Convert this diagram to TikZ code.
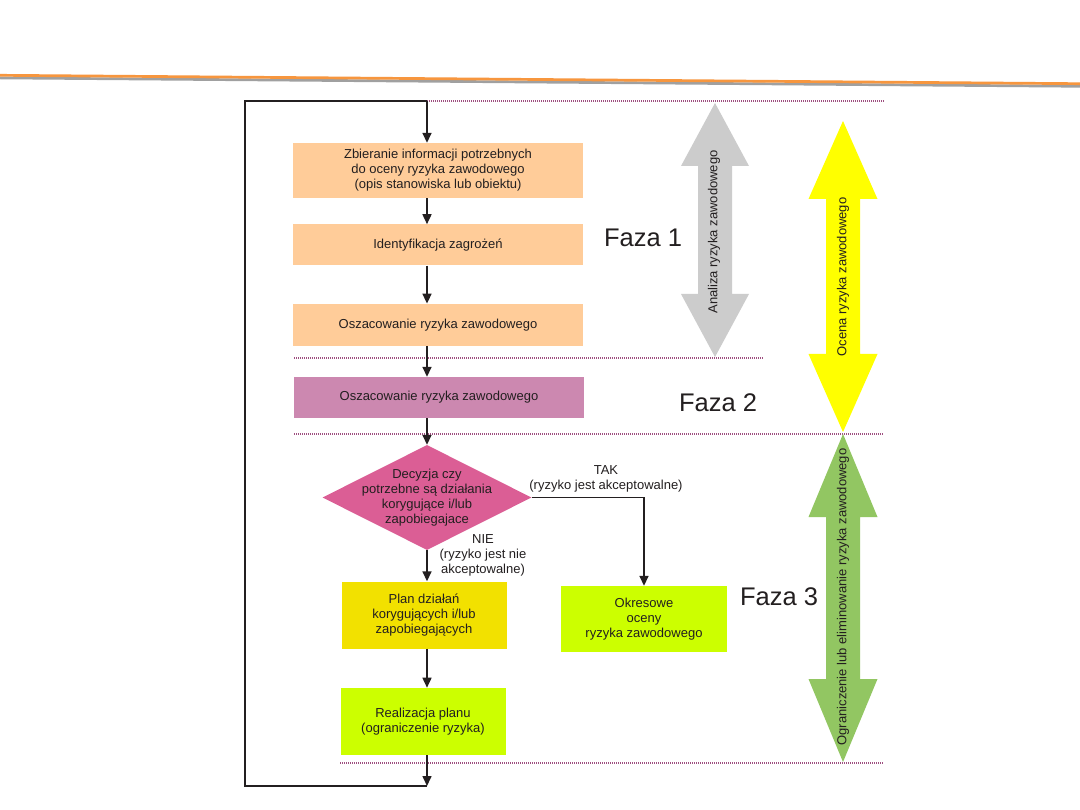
\documentclass[tikz,border=0pt]{standalone}
\usepackage{fontspec}
\setmainfont{Liberation Sans}
\usetikzlibrary{arrows.meta,positioning,shapes.geometric}
\definecolor{peach}{HTML}{FFCC99}
\definecolor{mauve}{HTML}{CC88B0}
\definecolor{rose}{HTML}{DB5E95}
\definecolor{plany}{HTML}{F2E100}
\definecolor{lime}{HTML}{CCFF00}
\definecolor{greyarr}{HTML}{CCCCCC}
\definecolor{yelarr}{HTML}{FFFF00}
\definecolor{grnarr}{HTML}{92C662}
\definecolor{dots}{HTML}{9E4F80}
\definecolor{ink}{HTML}{231F20}
\definecolor{hdrorange}{HTML}{F7963E}
\definecolor{hdrgrey}{HTML}{A0A0A0}
\newcommand{\boxfont}{\fontsize{13}{15}\selectfont}
\newcommand{\fazafont}{\fontsize{25.5}{30}\selectfont}
% x, top, bottom, half head, half shaft, head length, colour
\newcommand{\dblarrow}[7]{%
  \fill[#7] (#1,#2) -- ({#1+#4},{#2+#6}) -- ({#1+#5},{#2+#6}) -- ({#1+#5},{#3-#6})
    -- ({#1+#4},{#3-#6}) -- (#1,#3) -- ({#1-#4},{#3-#6}) -- ({#1-#5},{#3-#6})
    -- ({#1-#5},{#2+#6}) -- ({#1-#4},{#2+#6}) -- cycle;}

\begin{document}
\begin{tikzpicture}[
  x=1pt, y=-1pt,
  box/.style={inner sep=2pt, align=center, font=\boxfont, text=ink},
  decision/.style={diamond, fill=rose, inner sep=0pt,
                   minimum width=209pt, minimum height=105pt},
  lab/.style={font=\boxfont, align=center, text=ink, inner sep=0pt},
  vlab/.style={font=\boxfont, rotate=90, text=ink, inner sep=0pt},
  faza/.style={font=\fazafont, text=ink, inner sep=0pt},
  arr/.style={-{Triangle[length=10pt, width=9pt]}, line width=1.6pt, draw=ink},
  line/.style={line width=1.6pt, draw=ink},
  sep/.style={draw=dots, line width=1.3pt, dash pattern=on 1pt off 1pt}
]
\useasboundingbox[fill=white] (0,0) rectangle (1080,810);
% header
\draw[hdrgrey, line width=2.7pt] (0,77.9) -- (1080,86.3);
\draw[hdrorange, line width=2.7pt] (0,75.3) -- (1080,83.7);

% phase separators
\draw[sep] (427,101) -- (884,101);
\draw[sep] (294,358) -- (763,358);
\draw[sep] (294,434) -- (884,434);
\draw[sep] (340,763) -- (884,763);

% side arrows
\dblarrow{715}{103}{357}{34}{17}{63}{greyarr}
\dblarrow{843}{121}{432}{34.5}{17}{78}{yelarr}
\dblarrow{843}{434}{762}{34.5}{17}{83}{grnarr}
\node[vlab] (analiza) at (714,232) {Analiza ryzyka zawodowego};
\node[vlab] (ocena) at (843,277) {Ocena ryzyka zawodowego};
\node[vlab] (ograniczenie) at (843,597) {Ograniczenie lub eliminowanie ryzyka zawodowego};

% phases
\node[faza] (faza1) at (643,238) {Faza 1};
\node[faza] (faza2) at (718,403) {Faza 2};
\node[faza] (faza3) at (779,597) {Faza 3};

% flow
\node[box, fill=peach, minimum width=290pt, minimum height=55pt] (zbieranie) at (438,170.5)
  {Zbieranie informacji potrzebnych\\ do oceny ryzyka zawodowego\\ (opis stanowiska lub obiektu)};
\node[box, fill=peach, minimum width=290pt, minimum height=41pt, below=26pt of zbieranie]
  (identyfikacja) {Identyfikacja zagrożeń};
\node[box, fill=peach, minimum width=290pt, minimum height=42pt, below=38pt of identyfikacja]
  (oszacowanie) {Oszacowanie ryzyka zawodowego};
\node[box, fill=mauve, minimum width=290pt, minimum height=41pt] (oszacowanie2) at (439,397.5)
  {Oszacowanie ryzyka zawodowego};
\node[decision] (decyzja) at (427,497.5) {};
\node[lab] (decyzjatxt) at (decyzja) {Decyzja czy\\ potrzebne są działania\\ korygujące i/lub\\ zapobiegajace};
\node[box, fill=plany, minimum width=165pt, minimum height=67pt] (plan) at (424,615)
  {Plan działań\\ korygujących i/lub\\ zapobiegających};
\node[box, fill=lime, minimum width=166pt, minimum height=66pt] (okresowe) at (644,619)
  {Okresowe\\ oceny\\ ryzyka zawodowego};
\node[box, fill=lime, minimum width=165pt, minimum height=67pt, below=39pt of plan.south west, anchor=north west,
  xshift=-1pt] (realizacja) {Realizacja planu\\ (ograniczenie ryzyka)};
\node[lab] (tak) at (606,479) {TAK\\ (ryzyko jest akceptowalne)};
\node[lab] (nie) at (483,555) {NIE\\ (ryzyko jest nie\\ akceptowalne)};

\coordinate (top) at (427,101);
\coordinate (bot) at (427,786);
\coordinate (lft) at (245,101);
\draw[arr] (top) -- (zbieranie.north -| top);
\draw[arr] (zbieranie.south -| top) -- (identyfikacja.north -| top);
\draw[arr] (identyfikacja.south -| top) -- (oszacowanie.north -| top);
\draw[arr] (oszacowanie.south -| top) -- (oszacowanie2.north -| top);
\draw[arr] (oszacowanie2.south -| top) -- (decyzja.north);
\draw[arr] (decyzja.east) -| (okresowe.north);
\draw[arr] (decyzja.south) -- (plan.north -| decyzja.south);
\draw[arr] (plan.south -| top) -- (realizacja.north -| top);
\draw[arr] (realizacja.south -| top) -- (bot);
\draw[line] (bot) -- (bot -| lft) -- (lft) -- (top);
\end{tikzpicture}
\end{document}
